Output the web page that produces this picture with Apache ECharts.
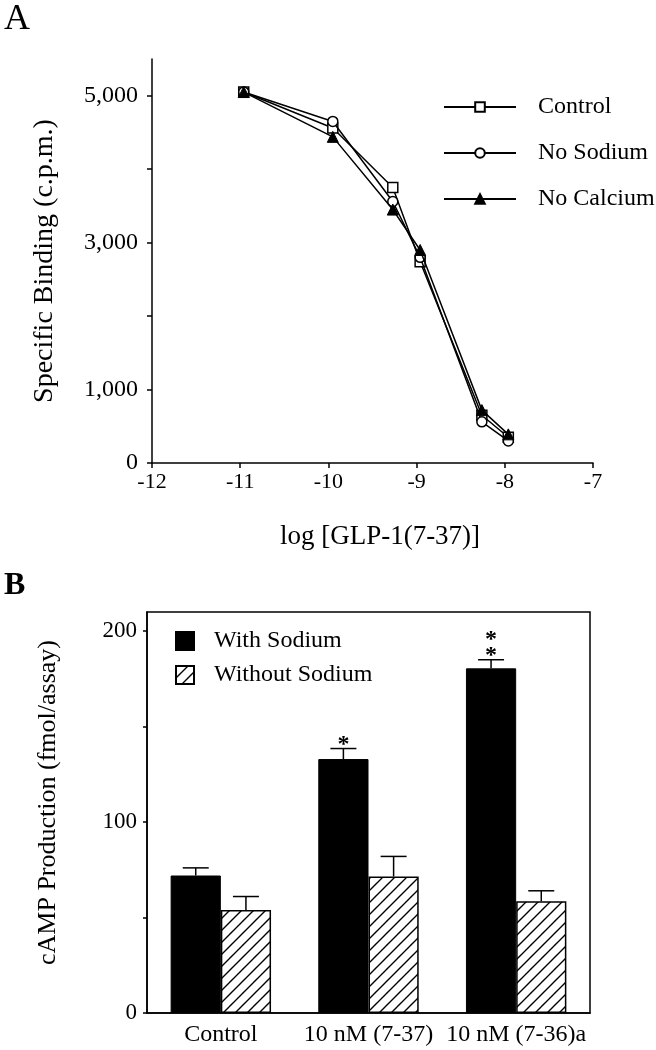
<!DOCTYPE html>
<html>
<head>
<meta charset="utf-8">
<script src="https://cdn.jsdelivr.net/npm/echarts@6/dist/echarts.min.js"></script>
<style>
html,body{margin:0;padding:0;background:#fff;}
#chart{width:656px;height:1050px;}
</style>
</head>
<body>
<div id="chart"></div>
<script>
// ---------- Panel A data ----------
const logConc = [-10.96, -9.95, -9.27, -8.96, -8.26, -7.96];
const controlBinding = [5050, 4560, 3750, 2740, 650, 350];
const noSodiumBinding = [5050, 4650, 3560, 2800, 560, 300];
const noCalciumBinding = [5050, 4440, 3450, 2900, 720, 390];
const yTicksA = [0, 1000, 2000, 3000, 4000, 5000];
const yLabelsA = [0, 1000, 3000, 5000];
const seriesNamesA = ['Control', 'No Sodium', 'No Calcium'];

// ---------- Panel B data ----------
const categoriesB = ['Control', '10 nM (7-37)', '10 nM (7-36)a'];
const withSodium = [72, 133, 180.5];
const withSodiumErr = [4, 5.5, 4.5];
const withoutSodium = [54, 71.5, 58.5];
const withoutSodiumErr = [7, 10.5, 5.5];
const significance = ['', '*', '*\n*'];
const yTicksB = [0, 50, 100, 150, 200];
const yLabelsB = [0, 100, 200];
const seriesNamesB = ['With Sodium', 'Without Sodium'];

const FONT = "'Liberation Serif', 'Times New Roman', serif";
const BAR_FRAC = 0.34;

function hatchPattern() {
  const s = 12;
  const c = document.createElement('canvas');
  c.width = s; c.height = s;
  const g = c.getContext('2d');
  g.fillStyle = '#fff';
  g.fillRect(0, 0, s, s);
  g.strokeStyle = '#000';
  g.lineWidth = 1.4;
  g.beginPath();
  g.moveTo(-2, s + 2); g.lineTo(s + 2, -2);
  g.moveTo(-2, 2); g.lineTo(2, -2);
  g.moveTo(s - 2, s + 2); g.lineTo(s + 2, s - 2);
  g.stroke();
  return c;
}

const chart = echarts.init(document.getElementById('chart'), null, {renderer: 'canvas'});

const lineStyle = {color: '#000', width: 1.5};
const fmtThousands = v => Number(v).toLocaleString('en-US');

function errRender(sideSign, errArr) {
  return function (params, api) {
    const cat = api.value(0);
    const v = api.value(1);
    const e = errArr[params.dataIndex];
    const band = api.size([1, 0])[0];
    const off = sideSign * band * BAR_FRAC / 2;
    const p0 = api.coord([cat, v]);
    const p1 = api.coord([cat, v + e]);
    const x = p0[0] + off;
    const children = [
      {type: 'line', shape: {x1: x, y1: p0[1], x2: x, y2: p1[1]}, style: {stroke: '#000', lineWidth: 1.5}},
      {type: 'line', shape: {x1: x - 13, y1: p1[1], x2: x + 13, y2: p1[1]}, style: {stroke: '#000', lineWidth: 1.5}}
    ];
    if (sideSign < 0 && significance[params.dataIndex]) {
      children.push({
        type: 'text',
        style: {
          text: significance[params.dataIndex],
          x: x, y: p1[1] + 4,
          align: 'center', verticalAlign: 'bottom',
          font: 'bold 24px ' + FONT, lineHeight: 16, fill: '#000'
        }
      });
    }
    return {type: 'group', children: children};
  };
}

const option = {
  backgroundColor: '#fff',
  animation: false,
  textStyle: {fontFamily: FONT, color: '#000'},
  title: [
    {text: 'A', left: 4, top: 2, padding: 0, textStyle: {fontSize: 36, fontWeight: 'normal', fontFamily: FONT, color: '#000'}},
    {text: 'B', left: 4, top: 570, padding: 0, textStyle: {fontSize: 32, fontWeight: 'bold', fontFamily: FONT, color: '#000'}}
  ],
  legend: [
    {
      data: seriesNamesA, orient: 'vertical', left: 443, top: 95,
      itemWidth: 72, itemHeight: 12, itemGap: 22, padding: 0,
      textStyle: {fontSize: 24, fontFamily: FONT, color: '#000', lineHeight: 24, padding: [0, 0, 0, 17]}
    },
    {
      data: seriesNamesB, orient: 'vertical', left: 175, top: 629, icon: 'rect',
      itemWidth: 18, itemHeight: 18, itemGap: 10, padding: 0,
      textStyle: {fontSize: 24, fontFamily: FONT, color: '#000', lineHeight: 20, padding: [0, 0, 0, 15]}
    }
  ],
  grid: [
    {left: 152, top: 59, width: 441, height: 404, show: false},
    {left: 147, top: 612, width: 443, height: 401, show: true, borderColor: '#000', borderWidth: 1.5, backgroundColor: 'transparent'}
  ],
  xAxis: [
    {
      gridIndex: 0, type: 'value', min: -12, max: -7, interval: 1,
      name: 'log [GLP-1(7-37)]', nameLocation: 'middle', nameGap: 60,
      nameTextStyle: {fontSize: 27, fontFamily: FONT, color: '#000', padding: [0, 0, 0, 15]},
      axisLine: {show: true, onZero: false, lineStyle: lineStyle},
      axisTick: {show: true, inside: false, length: 5, lineStyle: lineStyle},
      axisLabel: {fontSize: 22, fontFamily: FONT, color: '#000', margin: 8},
      splitLine: {show: false}
    },
    {
      gridIndex: 1, type: 'category', data: categoriesB,
      axisLine: {show: true, lineStyle: lineStyle},
      axisTick: {show: false},
      axisLabel: {fontSize: 24, fontFamily: FONT, color: '#000', margin: 10, interval: 0, hideOverlap: false},
      splitLine: {show: false}
    }
  ],
  yAxis: [
    {
      gridIndex: 0, type: 'value', min: 0, max: 5500,
      name: 'Specific Binding (c.p.m.)', nameLocation: 'middle', nameGap: 93,
      nameTextStyle: {fontSize: 28, fontFamily: FONT, color: '#000'},
      axisLine: {show: true, lineStyle: lineStyle},
      axisTick: {show: true, inside: false, length: 5, lineStyle: lineStyle, customValues: yTicksA},
      axisLabel: {fontSize: 24, fontFamily: FONT, color: '#000', margin: 14, customValues: yLabelsA, formatter: fmtThousands},
      splitLine: {show: false}
    },
    {
      gridIndex: 1, type: 'value', min: 0, max: 210,
      name: 'cAMP Production (fmol/assay)', nameLocation: 'middle', nameGap: 86,
      nameTextStyle: {fontSize: 26, fontFamily: FONT, color: '#000', padding: [0, 0, 0, 20]},
      axisLine: {show: true, lineStyle: lineStyle},
      axisTick: {show: true, inside: false, length: 4, lineStyle: lineStyle, customValues: yTicksB},
      axisLabel: {fontSize: 23, fontFamily: FONT, color: '#000', margin: 10, customValues: yLabelsB},
      splitLine: {show: false}
    }
  ],
  series: [
    {
      name: 'Control', type: 'line', xAxisIndex: 0, yAxisIndex: 0,
      data: logConc.map((x, i) => [x, controlBinding[i]]),
      symbol: 'rect', symbolSize: 10,
      itemStyle: {color: '#fff', borderColor: '#000', borderWidth: 1.5},
      lineStyle: lineStyle, z: 3
    },
    {
      name: 'No Sodium', type: 'line', xAxisIndex: 0, yAxisIndex: 0,
      data: logConc.map((x, i) => [x, noSodiumBinding[i]]),
      symbol: 'circle', symbolSize: 10,
      itemStyle: {color: '#fff', borderColor: '#000', borderWidth: 1.5},
      lineStyle: lineStyle, z: 4
    },
    {
      name: 'No Calcium', type: 'line', xAxisIndex: 0, yAxisIndex: 0,
      data: logConc.map((x, i) => [x, noCalciumBinding[i]]),
      symbol: 'triangle', symbolSize: 11,
      itemStyle: {color: '#000', borderColor: '#000', borderWidth: 1},
      lineStyle: lineStyle, z: 5
    },
    {
      name: 'With Sodium', type: 'bar', xAxisIndex: 1, yAxisIndex: 1,
      data: withSodium, barWidth: (BAR_FRAC * 100) + '%', barGap: '0%',
      itemStyle: {color: '#000', borderColor: '#000', borderWidth: 1}
    },
    {
      name: 'Without Sodium', type: 'bar', xAxisIndex: 1, yAxisIndex: 1,
      data: withoutSodium, barWidth: (BAR_FRAC * 100) + '%', barGap: '0%',
      itemStyle: {color: {image: hatchPattern(), repeat: 'repeat'}, borderColor: '#000', borderWidth: 1.5}
    },
    {
      type: 'custom', xAxisIndex: 1, yAxisIndex: 1, z: 1,
      data: withSodium.map((v, i) => [i, v]),
      renderItem: errRender(-1, withSodiumErr)
    },
    {
      type: 'custom', xAxisIndex: 1, yAxisIndex: 1, z: 1,
      data: withoutSodium.map((v, i) => [i, v]),
      renderItem: errRender(1, withoutSodiumErr)
    }
  ]
};
chart.setOption(option);
</script>
</body>
</html>
